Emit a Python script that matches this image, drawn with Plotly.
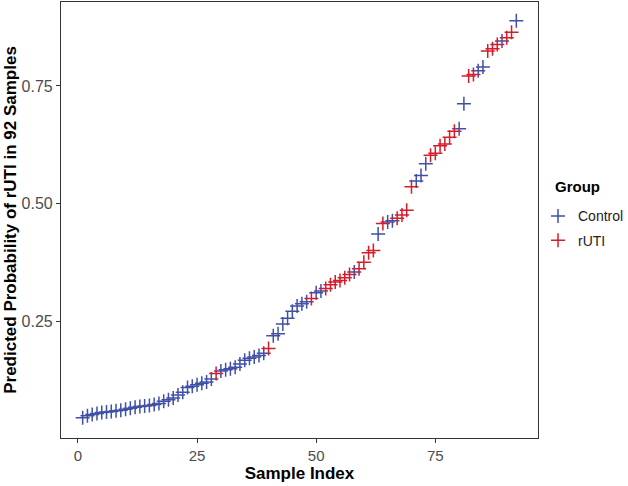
import plotly.graph_objects as go

# predicted probabilities, sorted, sample index 1..92
probabilities = [
    0.046, 0.050, 0.053, 0.055, 0.057, 0.058, 0.059, 0.061, 0.062, 0.064,
    0.066, 0.068, 0.070, 0.071, 0.072, 0.074, 0.076, 0.081, 0.084, 0.088,
    0.094, 0.100, 0.110, 0.113, 0.116, 0.119, 0.122, 0.128, 0.140, 0.145,
    0.148, 0.150, 0.153, 0.160, 0.168, 0.172, 0.175, 0.178, 0.183, 0.193,
    0.220, 0.224, 0.245, 0.257, 0.272, 0.283, 0.288, 0.292, 0.299, 0.311,
    0.315, 0.320, 0.328, 0.334, 0.337, 0.343, 0.350, 0.355, 0.362, 0.376,
    0.396, 0.401, 0.436, 0.458, 0.461, 0.464, 0.469, 0.476, 0.486, 0.536,
    0.548, 0.560, 0.585, 0.603, 0.607, 0.623, 0.627, 0.641, 0.654, 0.659,
    0.712, 0.771, 0.774, 0.782, 0.790, 0.824, 0.829, 0.838, 0.845, 0.852,
    0.864, 0.888,
]

rUTI_indices = [
    29, 40, 49, 52, 53, 54, 55, 56, 57, 59, 60, 61, 62, 64, 67, 68, 69, 70,
    74, 75, 76, 77, 78, 79, 82, 83, 86, 87, 88, 90, 91,
]

groups = ["rUTI" if i + 1 in rUTI_indices else "Control" for i in range(len(probabilities))]
sample_index = list(range(1, len(probabilities) + 1))

group_colors = {"Control": "#4050A8", "rUTI": "#D81B29"}
font_family = "Liberation Sans, Arial, sans-serif"

fig = go.Figure()

for group in ["Control", "rUTI"]:
    xs = [x for x, g in zip(sample_index, groups) if g == group]
    ys = [y for y, g in zip(probabilities, groups) if g == group]
    fig.add_trace(
        go.Scatter(
            x=xs,
            y=ys,
            mode="markers",
            name=group,
            legendgroup=group,
            marker=dict(
                symbol="cross-thin",
                size=10,
                line=dict(width=1.5, color=group_colors[group]),
                color=group_colors[group],
            ),
        )
    )

fig.update_xaxes(
    range=[-3.55, 96.55],
    tickvals=[0, 25, 50, 75],
    ticks="outside",
    ticklen=4,
    tickcolor="#333333",
    tickfont=dict(size=15, color="#4d4d4d", family=font_family),
    showgrid=False,
    zeroline=False,
    showline=True,
    mirror=True,
    linecolor="#333333",
    linewidth=1.2,
    automargin=False,
    title=dict(
        text="<b>Sample Index</b>",
        font=dict(size=17, color="black", family=font_family),
        standoff=0,
    ),
)

fig.update_yaxes(
    range=[0.003, 0.928],
    tickvals=[0.25, 0.50, 0.75],
    ticktext=["0.25", "0.50", "0.75"],
    ticks="outside",
    ticklen=4,
    tickcolor="#333333",
    tickfont=dict(size=16, color="#4d4d4d", family=font_family),
    showgrid=False,
    zeroline=False,
    showline=True,
    mirror=True,
    linecolor="#333333",
    linewidth=1.2,
    automargin=False,
    title=dict(
        text="<b>Predicted Probability of rUTI in 92 Samples</b>",
        font=dict(size=17, color="black", family=font_family),
        standoff=0,
    ),
)

# legend title as its own text, so the gap under it can match
fig.add_annotation(
    text="<b>Group</b>",
    xref="paper",
    yref="paper",
    x=1.031,
    y=0.576,
    xanchor="left",
    yanchor="middle",
    showarrow=False,
    font=dict(size=15, color="black", family=font_family),
)

fig.update_layout(
    width=628,
    height=486,
    margin=dict(l=61, r=90, t=2, b=48, autoexpand=False),
    paper_bgcolor="white",
    plot_bgcolor="white",
    font=dict(family=font_family),
    legend=dict(
        font=dict(size=14, color="#222222"),
        x=1.0,
        xanchor="left",
        y=0.545,
        yanchor="top",
        itemwidth=30,
        tracegroupgap=3,
        bgcolor="rgba(0,0,0,0)",
    ),
)

# drop the browser's default body margin so the figure sits at the page corner
fig.write_html(
    "out.html",
    config={"displayModeBar": False},
    post_script="document.body.style.margin='0';",
)
